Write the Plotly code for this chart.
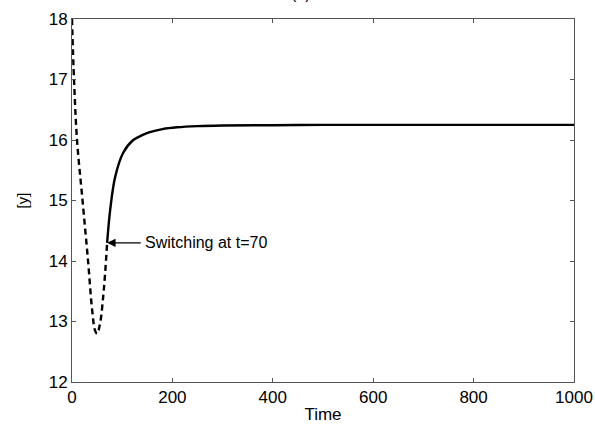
import plotly.graph_objects as go

# dashed phase (before switching)
t_before = [0, 4, 10, 21, 32, 40, 46, 50, 56, 62, 66, 70]
y_before = [18.0, 17.0, 16.0, 15.0, 14.0, 13.2, 12.85, 12.8, 12.97, 13.4, 13.8, 14.3]
# solid phase (after switching)
t_after = [70, 76, 86, 102, 122, 140, 155, 180, 209, 250, 300, 400, 500, 600, 800, 1000]
y_after = [14.3, 14.84, 15.39, 15.79, 16.0, 16.08, 16.13, 16.18, 16.21, 16.23, 16.24, 16.245, 16.25, 16.25, 16.25, 16.25]

x_ticks = [0, 200, 400, 600, 800, 1000]
y_ticks = [12, 13, 14, 15, 16, 17, 18]

FONT = "Liberation Sans, Arial"

fig = go.Figure()
fig.add_trace(go.Scatter(x=t_before, y=y_before, mode="lines",
                         line=dict(color="black", width=2.4, dash="6px,4px"),
                         line_shape="spline", showlegend=False))
fig.add_trace(go.Scatter(x=t_after, y=y_after, mode="lines",
                         line=dict(color="black", width=2.4),
                         line_shape="spline", showlegend=False))

fig.add_annotation(x=70, y=14.3, ax=140, ay=14.3, axref="x", ayref="y",
                   xref="x", yref="y", text="", showarrow=True,
                   arrowhead=2, arrowsize=1.2, arrowwidth=1.4, arrowcolor="black")
fig.add_annotation(x=141, y=14.3, xref="x", yref="y", text="Switching at t=70",
                   showarrow=False, xanchor="left", yanchor="middle",
                   font=dict(size=16, color="black", family=FONT))
fig.add_annotation(x=(301 - 72) / 502, y=1 + 15 / 363, xref="paper", yref="paper",
                   text="(a)", showarrow=False, xanchor="center", yanchor="bottom",
                   font=dict(size=16, color="black", family=FONT))

axis_common = dict(showgrid=False, zeroline=False, showline=True, linecolor="#555555",
                   linewidth=1, mirror="ticks", ticks="inside", ticklen=4,
                   tickcolor="#555555", automargin=False,
                   tickfont=dict(size=17, color="black", family=FONT))

fig.update_xaxes(range=[0, 1000], tickvals=x_ticks,
                 title=dict(text="Time", standoff=2,
                            font=dict(size=17, color="black", family=FONT)),
                 **axis_common)
fig.update_yaxes(range=[12, 18], tickvals=y_ticks,
                 title=dict(text="[y]", standoff=16,
                            font=dict(size=15, color="black", family=FONT)),
                 **axis_common)

fig.update_layout(width=595, height=424,
                  margin=dict(l=72, r=21, t=19, b=42, autoexpand=False),
                  plot_bgcolor="white", paper_bgcolor="white")

fig.write_html("out.html")
